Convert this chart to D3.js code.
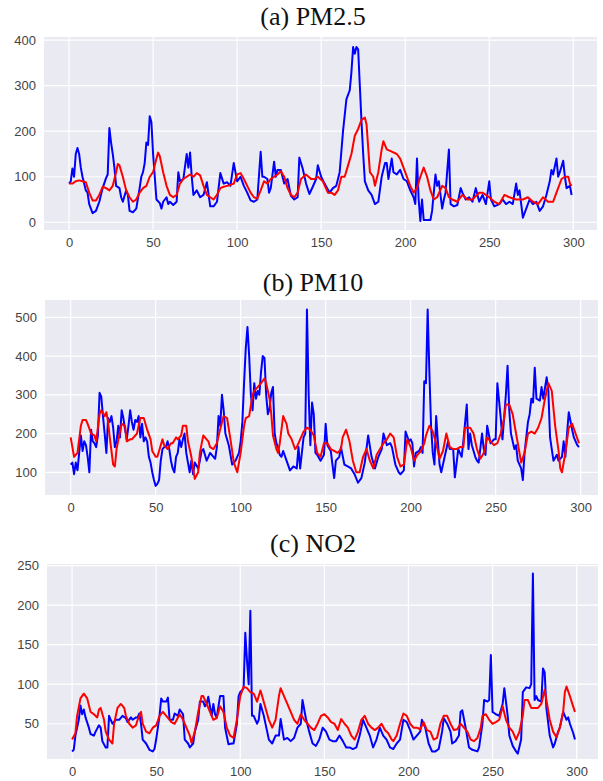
<!DOCTYPE html>
<html>
<head>
<meta charset="utf-8">
<script src="https://cdn.jsdelivr.net/npm/d3@7"></script>
<style>
  body { margin: 0; background: #fff; }
  .tick text { font-family: "Liberation Sans", Arial, sans-serif; font-size: 13px; fill: #444; }
  .title { font-family: "Liberation Serif", "Times New Roman", serif; font-size: 26px; fill: #111; }
</style>
</head>
<body>
<div id="chart"></div>
<script>
// [time step, value]
var pm25Actual = [[0,85],[1,90],[2,118],[3,100],[4,150],[5,163],[6,150],[7,120],[8,100],[9,85],[10,70],[11,65],[12,40],[14,20],[16,25],[18,45],[20,75],[22,97],[23,105],[24,207],[25,175],[26,150],[27,120],[28,80],[30,75],[31,55],[32,45],[34,70],[35,60],[36,25],[38,22],[40,30],[42,75],[43,100],[44,110],[45,130],[46,175],[47,170],[48,233],[49,220],[50,150],[51,100],[52,50],[54,42],[55,30],[56,45],[58,55],[59,40],[60,45],[62,38],[64,45],[65,110],[66,90],[68,95],[70,150],[71,120],[72,153],[73,100],[74,60],[76,70],[78,55],[80,60],[82,88],[84,35],[86,35],[88,45],[90,108],[92,85],[94,88],[96,80],[97,105],[98,130],[100,90],[102,100],[104,80],[106,65],[108,48],[110,45],[112,50],[114,155],[115,100],[116,100],[118,95],[119,65],[120,75],[122,133],[123,100],[124,115],[126,115],[128,85],[130,95],[132,58],[134,50],[136,55],[137,142],[139,118],[141,85],[143,62],[145,78],[147,95],[148,125],[150,100],[152,85],[155,65],[157,75],[159,80],[161,110],[163,200],[165,270],[167,290],[168,330],[169,385],[170,370],[171,385],[172,380],[173,300],[174,220],[175,150],[176,90],[178,70],[180,60],[182,40],[184,45],[186,100],[188,130],[189,130],[190,95],[192,140],[193,110],[195,105],[197,115],[199,95],[201,90],[203,70],[205,55],[206,40],[207,140],[208,50],[209,3],[210,50],[211,5],[213,5],[215,5],[216,25],[218,105],[219,80],[220,90],[222,30],[223,50],[224,65],[226,160],[227,40],[229,35],[231,38],[233,75],[234,65],[236,50],[238,55],[240,45],[242,75],[244,45],[246,60],[248,40],[250,90],[251,50],[253,35],[256,40],[258,50],[260,40],[262,45],[264,40],[266,85],[267,60],[268,70],[270,10],[272,30],[274,50],[276,40],[278,45],[280,25],[282,35],[284,60],[286,90],[287,115],[288,105],[290,140],[291,100],[292,110],[294,135],[295,100],[296,75],[298,80],[299,60]];
var pm25Pred = [[0,85],[2,85],[4,90],[6,92],[8,90],[10,88],[12,65],[14,48],[16,48],[18,60],[20,78],[22,75],[24,70],[26,80],[28,110],[29,128],[30,125],[32,100],[34,70],[36,55],[38,45],[40,50],[42,65],[44,75],[46,80],[48,100],[50,110],[52,140],[53,153],[54,145],[56,110],[58,80],[60,60],[62,55],[64,60],[66,85],[68,95],[70,100],[72,105],[74,100],[76,108],[78,103],[80,80],[82,60],[84,55],[86,50],[88,60],[90,75],[92,78],[94,80],[96,82],[98,85],[100,105],[102,108],[104,95],[106,80],[108,65],[110,55],[112,52],[114,70],[116,90],[118,85],[120,95],[122,100],[124,105],[126,112],[128,100],[130,75],[132,60],[134,55],[136,65],[138,95],[141,105],[144,95],[146,95],[148,100],[151,90],[154,65],[156,65],[158,60],[160,70],[162,100],[164,100],[166,125],[168,150],[170,190],[172,205],[174,225],[176,230],[177,215],[179,110],[181,100],[182,80],[184,110],[186,160],[187,178],[189,160],[192,155],[195,150],[197,140],[199,120],[201,100],[203,80],[205,65],[207,75],[209,100],[211,120],[213,100],[215,70],[217,50],[219,55],[222,80],[224,75],[226,55],[228,50],[231,45],[234,60],[237,50],[240,50],[244,65],[246,65],[250,55],[253,45],[256,40],[259,60],[262,55],[266,50],[270,50],[273,55],[276,45],[279,40],[282,55],[285,45],[288,45],[290,65],[293,95],[295,100],[297,100],[298,85],[299,80]];

var pm10Actual = [[0,120],[1,125],[2,95],[3,125],[4,105],[5,150],[6,195],[7,155],[8,180],[9,170],[10,140],[11,100],[12,210],[13,180],[14,175],[15,165],[16,195],[17,305],[18,295],[19,245],[20,200],[21,150],[22,240],[23,230],[24,245],[25,215],[26,165],[27,180],[28,220],[29,190],[30,260],[31,240],[32,210],[33,185],[34,220],[35,260],[36,230],[37,210],[38,235],[39,230],[40,245],[41,190],[42,225],[43,180],[44,190],[45,180],[46,140],[47,125],[48,100],[49,80],[50,65],[51,70],[52,80],[53,130],[54,160],[55,165],[56,165],[57,180],[58,160],[59,130],[60,110],[61,100],[62,140],[63,150],[64,185],[65,165],[66,185],[67,200],[68,150],[69,125],[70,100],[71,130],[72,95],[73,125],[75,110],[76,130],[77,155],[78,160],[80,130],[81,140],[82,150],[84,140],[85,135],[86,165],[87,245],[88,220],[89,300],[90,260],[91,200],[93,170],[95,120],[97,130],[99,150],[100,180],[101,230],[102,330],[103,420],[104,475],[105,400],[106,300],[107,260],[108,330],[109,290],[110,310],[111,300],[112,360],[113,400],[114,395],[115,300],[116,250],[117,265],[118,305],[119,320],[120,200],[121,175],[122,165],[123,145],[124,140],[125,155],[127,130],[129,105],[131,115],[133,110],[134,165],[135,110],[137,190],[138,200],[139,520],[140,300],[141,170],[142,280],[143,250],[144,150],[145,145],[147,130],[149,145],[150,225],[151,170],[153,155],[155,85],[156,130],[158,140],[159,165],[161,120],[163,115],[165,110],[167,95],[169,73],[171,85],[173,125],[175,195],[177,140],[179,110],[181,140],[183,160],[184,200],[186,170],[188,175],[189,165],[191,120],[193,100],[194,95],[196,105],[197,205],[199,180],[200,185],[201,175],[202,115],[203,150],[205,155],[206,165],[207,150],[208,335],[209,330],[210,520],[211,360],[212,220],[213,150],[214,120],[215,245],[216,180],[217,120],[218,100],[220,140],[222,180],[223,160],[225,160],[226,87],[228,160],[230,140],[231,180],[233,275],[234,160],[235,200],[236,170],[238,140],[239,130],[240,125],[242,200],[243,160],[244,145],[245,220],[247,175],[249,185],[250,185],[251,330],[253,240],[254,185],[256,300],[257,375],[258,260],[259,200],[261,160],[262,170],[263,130],[265,110],[266,80],[267,150],[269,230],[270,250],[271,290],[272,280],[273,370],[274,290],[276,285],[277,320],[278,290],[280,345],[281,310],[282,190],[283,160],[284,130],[286,145],[287,130],[289,140],[290,180],[291,140],[292,200],[293,255],[295,210],[296,190],[298,170],[299,165]];
var pm10Pred = [[0,190],[2,140],[4,150],[6,220],[7,235],[9,235],[10,225],[12,200],[14,195],[15,180],[17,250],[18,260],[20,245],[21,255],[22,230],[23,190],[25,120],[26,115],[27,160],[29,205],[30,225],[32,220],[33,180],[35,185],[36,185],[38,195],[39,200],[41,240],[43,240],[45,210],[47,185],[48,155],[50,140],[51,140],[52,155],[54,185],[55,170],[57,160],[59,175],[60,175],[62,190],[63,185],[65,195],[66,220],[68,220],[69,180],[71,140],[72,110],[73,83],[75,100],[76,150],[78,195],[80,185],[81,180],[82,165],[84,160],[86,175],[88,212],[90,245],[92,240],[94,185],[96,125],[98,100],[100,150],[102,220],[103,240],[105,245],[107,300],[108,310],[110,320],[112,330],[114,342],[115,330],[116,310],[117,290],[118,250],[119,195],[121,160],[122,150],[123,175],[125,245],[127,225],[128,200],[130,185],[132,160],[133,165],[135,185],[137,205],[139,215],[141,210],[143,195],[145,150],[147,140],[149,175],[151,175],[153,160],[155,155],[157,150],[159,160],[160,190],[162,210],[164,180],[166,130],[168,100],[170,100],[172,140],[174,160],[176,130],[178,110],[180,145],[182,160],[184,175],[186,185],[188,200],[190,190],[192,140],[194,115],[196,120],[198,185],[200,165],[202,130],[204,145],[206,155],[208,175],[209,195],[211,220],[213,205],[215,175],[217,135],[219,155],[221,200],[223,165],[225,160],[227,160],[229,165],[231,165],[232,215],[235,215],[237,200],[239,160],[241,135],[243,150],[245,190],[247,180],[249,170],[251,175],[253,200],[255,240],[256,275],[258,275],[260,250],[262,200],[264,150],[265,125],[267,150],[269,200],[271,205],[273,200],[275,215],[277,240],[279,290],[281,330],[283,310],[285,220],[287,155],[288,110],[289,100],[291,150],[293,215],[295,225],[297,200],[299,175]];

var no2Actual = [[0,15],[1,17],[2,35],[4,55],[5,73],[6,62],[7,68],[8,58],[10,45],[11,37],[13,35],[14,40],[16,48],[17,45],[18,28],[20,20],[21,20],[22,60],[23,55],[24,50],[26,55],[27,55],[28,55],[30,60],[32,57],[33,52],[35,58],[36,55],[38,58],[39,58],[40,63],[41,50],[42,30],[44,25],[46,17],[48,15],[49,18],[50,30],[52,60],[53,82],[54,78],[56,78],[57,83],[58,55],[60,55],[61,63],[63,60],[64,68],[66,62],[67,30],[69,25],[70,20],[72,25],[73,40],[75,55],[76,78],[78,78],[79,72],[80,75],[81,84],[83,60],[84,75],[85,62],[86,58],[88,85],[90,85],[91,45],[93,24],[95,25],[96,25],[98,50],[99,85],[100,90],[101,92],[102,95],[103,165],[104,130],[105,100],[106,193],[107,60],[108,60],[110,50],[111,55],[112,75],[114,60],[116,40],[117,30],[119,25],[121,35],[123,35],[124,56],[126,30],[128,32],[130,28],[132,32],[134,45],[136,50],[137,80],[139,57],[141,40],[143,25],[145,22],[147,30],[149,45],[151,40],[153,30],[155,28],[157,28],[159,35],[161,28],[163,20],[165,20],[167,18],[169,20],[171,35],[173,55],[175,45],[177,35],[179,20],[181,30],[183,45],[185,35],[187,30],[189,20],[191,18],[193,25],[195,30],[197,55],[199,52],[201,42],[203,30],[205,35],[207,40],[208,55],[210,45],[212,25],[214,15],[216,15],[218,18],[220,40],[221,57],[223,50],[225,40],[226,25],[228,28],[230,35],[231,65],[232,67],[234,45],[236,20],[238,17],[241,15],[242,20],[244,50],[245,80],[247,78],[248,80],[249,137],[250,65],[252,62],[254,60],[256,75],[257,95],[259,60],[260,35],[262,22],[264,15],[265,12],[267,30],[268,90],[270,96],[272,95],[273,100],[274,240],[275,80],[276,85],[277,80],[279,78],[280,120],[281,115],[282,70],[284,35],[286,20],[287,25],[289,40],[290,45],[292,65],[294,55],[295,58],[296,50],[298,38],[299,30]];
var no2Pred = [[0,30],[2,38],[3,60],[5,82],[7,88],[9,82],[11,65],[13,62],[15,58],[16,68],[17,70],[19,55],[20,40],[22,30],[24,25],[25,50],[27,70],[29,75],[31,70],[32,60],[34,50],[36,45],[38,48],[39,55],[41,65],[42,50],[44,40],[46,38],[48,45],[50,48],[52,60],[54,65],[56,60],[58,55],[59,52],[61,50],[64,62],[66,55],[68,45],[70,35],[71,26],[73,40],[75,65],[77,85],[78,85],[80,75],[82,65],[84,55],[86,57],[88,72],[90,65],[92,45],[94,35],[96,32],[98,55],[100,85],[102,97],[104,95],[106,90],[108,88],[110,78],[112,92],[113,85],[115,70],[117,55],[119,45],[121,55],[123,85],[124,95],[126,85],[128,75],[130,65],[132,55],[134,50],[136,62],[138,55],[140,50],[142,45],[144,42],[146,50],[148,60],[150,62],[152,58],[154,52],[156,50],[158,42],[160,56],[162,50],[164,45],[166,35],[168,30],[170,40],[172,55],[174,60],[176,50],[178,45],[180,42],[182,45],[184,50],[186,42],[188,38],[190,30],[191,28],[193,35],[195,50],[197,63],[199,60],[201,50],[203,45],[205,45],[207,43],[209,52],[211,42],[213,40],[215,30],[217,32],[219,50],[221,60],[223,60],[225,50],[227,42],[229,43],[231,50],[233,45],[235,40],[237,30],[239,28],[241,32],[243,45],[244,60],[246,62],[248,55],[250,50],[252,52],[254,55],[256,72],[258,55],[260,45],[262,40],[264,30],[266,40],[268,60],[269,80],[271,80],[273,70],[275,70],[277,70],[279,75],[281,93],[282,80],[284,55],[286,40],[288,33],[290,45],[292,65],[293,90],[294,97],[296,85],[297,78],[299,65]];

var titles = ["(a) PM2.5", "(b) PM10", "(c) NO2"];
var xTicks = [0, 50, 100, 150, 200, 250, 300];
var pm25Ticks = [0, 100, 200, 300, 400];
var pm10Ticks = [100, 200, 300, 400, 500];
var no2Ticks = [50, 100, 150, 200, 250];

var width = 603, height = 781;

var panels = [
  { title: titles[0], actual: pm25Actual, pred: pm25Pred, yTicks: pm25Ticks,
    left: 44, right: 597, top: 37, bottom: 230, titleY: 25,
    xDomain: [-14.9, 314.1], yDomain: [-17, 407] },
  { title: titles[1], actual: pm10Actual, pred: pm10Pred, yTicks: pm10Ticks,
    left: 45, right: 598, top: 300, bottom: 495, titleY: 291,
    xDomain: [-15.1, 310.2], yDomain: [41.4, 544.6] },
  { title: titles[2], actual: no2Actual, pred: no2Pred, yTicks: no2Ticks,
    left: 47, right: 598, top: 564, bottom: 759, titleY: 552,
    xDomain: [-14.9, 312.7], yDomain: [5.4, 252] }
];

var svg = d3.select("#chart").append("svg")
    .attr("width", width)
    .attr("height", height);

panels.forEach(function(p) {
  var x = d3.scaleLinear().domain(p.xDomain).range([p.left, p.right]);
  var y = d3.scaleLinear().domain(p.yDomain).range([p.bottom, p.top]);

  var g = svg.append("g");

  g.append("rect")
      .attr("x", p.left)
      .attr("y", p.top)
      .attr("width", p.right - p.left)
      .attr("height", p.bottom - p.top)
      .attr("fill", "#eaeaf2");

  // grid
  g.selectAll(".vgrid")
      .data(xTicks)
    .enter().append("line")
      .attr("x1", function(d) { return x(d); })
      .attr("x2", function(d) { return x(d); })
      .attr("y1", p.top)
      .attr("y2", p.bottom)
      .attr("stroke", "#fff")
      .attr("stroke-width", 1.2);

  g.selectAll(".hgrid")
      .data(p.yTicks)
    .enter().append("line")
      .attr("x1", p.left)
      .attr("x2", p.right)
      .attr("y1", function(d) { return y(d); })
      .attr("y2", function(d) { return y(d); })
      .attr("stroke", "#fff")
      .attr("stroke-width", 1.2);

  var xAxis = d3.axisBottom(x).tickValues(xTicks).tickSize(0).tickPadding(8);
  var yAxis = d3.axisLeft(y).tickValues(p.yTicks).tickSize(0).tickPadding(8);

  g.append("g")
      .attr("transform", "translate(0," + p.bottom + ")")
      .call(xAxis)
      .call(function(a) { a.select(".domain").remove(); });

  g.append("g")
      .attr("transform", "translate(" + p.left + ",0)")
      .call(yAxis)
      .call(function(a) { a.select(".domain").remove(); });

  var line = d3.line()
      .x(function(d) { return x(d[0]); })
      .y(function(d) { return y(d[1]); });

  g.append("path")
      .datum(p.actual)
      .attr("fill", "none")
      .attr("stroke", "#0000ff")
      .attr("stroke-width", 2)
      .attr("stroke-linejoin", "round")
      .attr("d", line);

  g.append("path")
      .datum(p.pred)
      .attr("fill", "none")
      .attr("stroke", "#ff0000")
      .attr("stroke-width", 2)
      .attr("stroke-linejoin", "round")
      .attr("d", line);

  g.append("text")
      .attr("class", "title")
      .attr("x", 313)
      .attr("y", p.titleY)
      .attr("text-anchor", "middle")
      .text(p.title);
});
</script>
</body>
</html>
